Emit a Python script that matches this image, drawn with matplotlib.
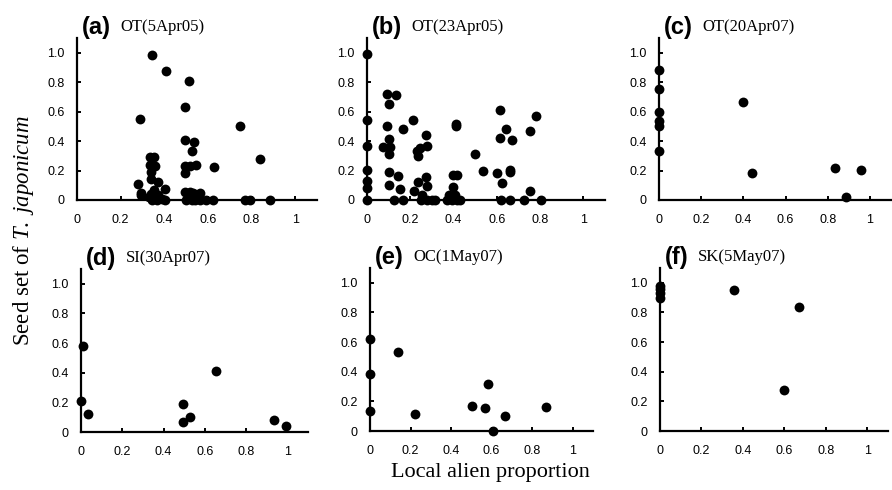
import numpy as np
import matplotlib.pyplot as plt

plt.rcParams["mathtext.fontset"] = "custom"
plt.rcParams["mathtext.rm"] = "Liberation Serif"
plt.rcParams["mathtext.it"] = "Liberation Serif:italic"

SANS = "Liberation Sans"
SERIF = "Liberation Serif"

# panel (a) OT(5Apr05)
a_x = [0.342, 0.41, 0.514, 0.497, 0.29, 0.748, 0.497, 0.535, 0.525, 0.837,
       0.333, 0.354, 0.357, 0.333, 0.496, 0.517, 0.545, 0.627, 0.337, 0.496,
       0.337, 0.369, 0.278, 0.404, 0.354, 0.294, 0.293, 0.34, 0.371, 0.494,
       0.517, 0.532, 0.563, 0.5, 0.525, 0.54, 0.563, 0.593, 0.624, 0.342,
       0.365, 0.403, 0.769, 0.792, 0.883, 0.33, 0.355, 0.39]
a_y = [0.984, 0.874, 0.806, 0.63, 0.55, 0.50, 0.41, 0.394, 0.333, 0.275,
       0.293, 0.293, 0.232, 0.236, 0.232, 0.232, 0.241, 0.225, 0.189, 0.18,
       0.14, 0.124, 0.11, 0.072, 0.065, 0.05, 0.034, 0.038, 0.034, 0.052,
       0.052, 0.05, 0.045, 0.0, 0.0, 0.0, 0.0, 0.0, 0.0, 0.0,
       0.0, 0.0, 0.0, 0.0, 0.0, 0.02, 0.015, 0.01]

# panel (b) OT(23Apr05)
b_x = [0, 0, 0, 0, 0, 0, 0, 0.093, 0.136, 0.1,
       0.093, 0.165, 0.211, 0.1, 0.074, 0.105, 0.103, 0.273, 0.275, 0.247,
       0.231, 0.236, 0.103, 0.142, 0.1, 0.154, 0.273, 0.235, 0.216, 0.275,
       0.255, 0.412, 0.412, 0.398, 0.417, 0.398, 0.377, 0.407, 0.498, 0.537,
       0.617, 0.644, 0.617, 0.668, 0.659, 0.659, 0.599, 0.622, 0.779, 0.753,
       0.753, 0.127, 0.165, 0.25, 0.278, 0.301, 0.312, 0.37, 0.394, 0.417,
       0.432, 0.62, 0.659, 0.725, 0.802]
b_y = [0.99, 0.545, 0.365, 0.207, 0.13, 0.083, 0.0, 0.72, 0.716, 0.649,
       0.505, 0.484, 0.54, 0.417, 0.36, 0.36, 0.309, 0.439, 0.365, 0.354,
       0.333, 0.30, 0.191, 0.164, 0.101, 0.072, 0.158, 0.124, 0.063, 0.095,
       0.034, 0.518, 0.50, 0.169, 0.169, 0.09, 0.034, 0.034, 0.311, 0.198,
       0.613, 0.48, 0.421, 0.41, 0.207, 0.191, 0.18, 0.117, 0.568, 0.468,
       0.063, 0.0, 0.0, 0.0, 0.0, 0.0, 0.0, 0.0, 0.0, 0.0,
       0.0, 0.0, 0.0, 0.0, 0.0]

# panel (c) OT(20Apr07)
c_x = [0, 0, 0, 0, 0, 0, 0.40, 0.439, 0.834, 0.956, 0.889]
c_y = [0.886, 0.755, 0.60, 0.539, 0.50, 0.336, 0.666, 0.184, 0.218, 0.202, 0.018]

# panel (d) SI(30Apr07)
d_x = [0.01, 0.0, 0.035, 0.652, 0.495, 0.495, 0.529, 0.934, 0.994]
d_y = [0.577, 0.206, 0.122, 0.41, 0.188, 0.066, 0.10, 0.081, 0.043]

# panel (e) OC(1May07)
e_x = [0, 0, 0, 0.137, 0.222, 0.503, 0.569, 0.58, 0.666, 0.867, 0.607]
e_y = [0.622, 0.382, 0.138, 0.536, 0.115, 0.167, 0.154, 0.319, 0.104, 0.163, 0.0]

# panel (f) SK(5May07)
f_x = [0, 0, 0, 0, 0.356, 0.673, 0.599]
f_y = [0.98, 0.957, 0.934, 0.896, 0.952, 0.835, 0.274]

letters = ["(a)", "(b)", "(c)", "(d)", "(e)", "(f)"]
sites = ["OT(5Apr05)", "OT(23Apr05)", "OT(20Apr07)",
         "SI(30Apr07)", "OC(1May07)", "SK(5May07)"]
xs = [a_x, b_x, c_x, d_x, e_x, f_x]
ys = [a_y, b_y, c_y, d_y, e_y, f_y]

W, H = 892, 490
# axes boxes in pixels: left, bottom(y from top), width, height
boxes = [(77, 200, 240, 162), (367, 200, 238, 162), (659, 200, 232, 162),
         (81, 432, 227, 163), (370, 431, 223, 163), (660, 431, 228, 163)]

fig = plt.figure(figsize=(W / 100, H / 100), dpi=100)

for i in range(6):
    l, b, w, h = boxes[i]
    ax = fig.add_axes([l / W, 1 - b / H, w / W, h / H])
    ax.scatter(xs[i], ys[i], s=50, color="black", linewidths=0,
               clip_on=False, zorder=3)
    ax.set_xlim(0, 1.1)
    ax.set_ylim(0, 1.1)
    ax.spines["top"].set_visible(False)
    ax.spines["right"].set_visible(False)
    ax.spines["left"].set_linewidth(1.6)
    ax.spines["bottom"].set_linewidth(1.6)
    ax.set_xticks([0, 0.2, 0.4, 0.6, 0.8, 1.0])
    ax.set_xticklabels(["0", "0.2", "0.4", "0.6", "0.8", "1"])
    ax.set_yticks([0, 0.2, 0.4, 0.6, 0.8, 1.0])
    ax.set_yticklabels(["0", "0.2", "0.4", "0.6", "0.8", "1.0"])
    ax.tick_params(axis="both", direction="in", length=3, width=1.4,
                   labelsize=9)
    ax.tick_params(axis="x", pad=10)
    ax.tick_params(axis="y", pad=9)
    for lab in ax.get_xticklabels() + ax.get_yticklabels():
        lab.set_fontfamily(SANS)
    t = ax.text(0.02, 1.065, letters[i], transform=ax.transAxes,
                fontsize=17, fontweight="bold", family=SANS,
                ha="left", va="center")
    ax.annotate(sites[i], xy=(1, 0.5), xycoords=t, xytext=(7, 0),
                textcoords="offset points", fontsize=12, family=SERIF,
                ha="left", va="center")

fig.text(24 / W, 1 - 231 / H, r"Seed set of $\mathit{T.\ japonicum}$",
         rotation=90, ha="center", va="center", fontsize=16.5, family=SERIF)
fig.text(490 / W, 1 - 472 / H, "Local alien proportion",
         ha="center", va="center", fontsize=16, family=SERIF)

fig.savefig("out.png", dpi=100)
